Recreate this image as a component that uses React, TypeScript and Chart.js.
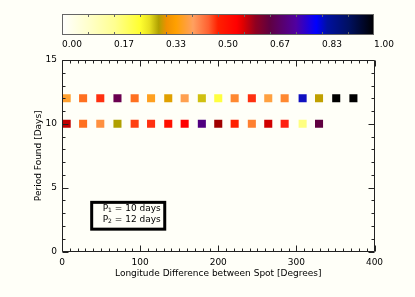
import { useEffect, useRef } from 'react';
import { Chart, registerables } from 'chart.js';

Chart.register(...registerables);

// ---- data ----
const longitudesP12 = [6, 27, 49, 71, 93, 114, 136, 157, 179, 200, 221, 243, 264, 285, 308, 329, 351, 373];
const periodsP12 = [12, 12, 12, 12, 12, 12, 12, 12, 12, 12, 12, 12, 12, 12, 12, 12, 12, 12];
const colorsP12 = [
  '#ffa030', '#ff7020', '#ff3010', '#6a0050', '#ff7020', '#ffa020', '#e0a000', '#ffa050', '#d0c010',
  '#ffff40', '#ff8830', '#ff3010', '#ffa040', '#ff8830', '#1010c0', '#c0a000', '#000000', '#000000',
];

const longitudesP10 = [6, 27, 49, 71, 93, 114, 136, 157, 179, 200, 221, 243, 264, 285, 308, 329];
const periodsP10 = [10, 10, 10, 10, 10, 10, 10, 10, 10, 10, 10, 10, 10, 10, 10, 10];
const colorsP10 = [
  '#c00000', '#ff7020', '#ff9040', '#b0a000', '#ff4010', '#ff3010', '#ff1000', '#ff0000', '#500080',
  '#a00000', '#ff2000', '#ff8030', '#d00000', '#ff2010', '#ffff80', '#600040',
];

const colorbarLabels = ['0.00', '0.17', '0.33', '0.50', '0.67', '0.83', '1.00'];
const colorbarStops: [number, string][] = [
  [0.0, '#ffffff'],
  [0.09, '#ffffc8'],
  [0.17, '#ffff90'],
  [0.25, '#ffff30'],
  [0.28, '#e8e020'],
  [0.31, '#b0a000'],
  [0.335, '#f09000'],
  [0.365, '#ffa000'],
  [0.42, '#ffa060'],
  [0.47, '#ff6030'],
  [0.5, '#ff2000'],
  [0.56, '#ff0000'],
  [0.58, '#e00000'],
  [0.62, '#900020'],
  [0.665, '#600040'],
  [0.75, '#5000a0'],
  [0.815, '#0000ff'],
  [0.85, '#0010a0'],
  [0.92, '#001060'],
  [1.0, '#000000'],
];

const legendLines = [
  { sub: '1', text: ' = 10 days' },
  { sub: '2', text: ' = 12 days' },
];

const FONT = "'DejaVu Sans', Verdana, sans-serif";
const BG = '#fffff8';

const idlPlugin = {
  id: 'idlPlugin',
  beforeDraw(chart: any) {
    const { ctx, width, height } = chart;
    ctx.save();
    ctx.fillStyle = BG;
    ctx.fillRect(0, 0, width, height);
    ctx.restore();
  },
  afterDraw(chart: any) {
    const { ctx, chartArea } = chart;
    const xs = chart.scales.x;
    const ys = chart.scales.y;
    const L = Math.round(chartArea.left) + 0.5;
    const R = Math.round(chartArea.right) - 0.5;
    const T = Math.round(chartArea.top) + 0.5;
    const B = Math.round(chartArea.bottom) - 0.5;
    ctx.save();
    ctx.strokeStyle = '#222';
    ctx.lineWidth = 1;
    ctx.beginPath();
    ctx.rect(L, T, R - L, B - T);
    ctx.stroke();
    ctx.beginPath();
    for (let v = 0; v <= 400; v += 10) {
      const px = Math.round(xs.getPixelForValue(v)) + 0.5;
      const len = v % 100 === 0 ? 6 : 3;
      ctx.moveTo(px, B);
      ctx.lineTo(px, B - len);
      ctx.moveTo(px, T);
      ctx.lineTo(px, T + len);
    }
    for (let v = 0; v <= 15; v += 1) {
      const py = Math.round(ys.getPixelForValue(v)) + 0.5;
      const len = v % 5 === 0 ? 6 : 3;
      ctx.moveTo(L, py);
      ctx.lineTo(L + len, py);
      ctx.moveTo(R, py);
      ctx.lineTo(R - len, py);
    }
    ctx.stroke();

    // legend box (in data coordinates)
    const bx0 = xs.getPixelForValue(38);
    const bx1 = xs.getPixelForValue(131.5);
    const by0 = ys.getPixelForValue(3.85);
    const by1 = ys.getPixelForValue(1.75);
    ctx.strokeStyle = '#000';
    ctx.lineWidth = 3;
    ctx.strokeRect(bx0, by0, bx1 - bx0, by1 - by0);
    ctx.fillStyle = '#000';
    ctx.textBaseline = 'middle';
    ctx.textAlign = 'left';
    legendLines.forEach((ln, i) => {
      const ty = by0 + 6 + i * 11;
      const tx = bx0 + 11;
      ctx.font = `9px ${FONT}`;
      ctx.fillText('P', tx, ty);
      const pw = ctx.measureText('P').width;
      ctx.font = `6px ${FONT}`;
      ctx.fillText(ln.sub, tx + pw, ty + 2);
      const sw = ctx.measureText(ln.sub).width;
      ctx.font = `9px ${FONT}`;
      ctx.fillText(ln.text, tx + pw + sw, ty);
    });

    // colorbar
    const cx0 = 62;
    const cx1 = 374;
    const cy0 = 14;
    const cy1 = 35;
    const grad = ctx.createLinearGradient(cx0, 0, cx1, 0);
    colorbarStops.forEach(([p, c]) => grad.addColorStop(p, c));
    ctx.fillStyle = grad;
    ctx.fillRect(cx0, cy0, cx1 - cx0, cy1 - cy0);
    ctx.strokeStyle = '#666';
    ctx.lineWidth = 1;
    ctx.strokeRect(cx0 + 0.5, cy0 + 0.5, cx1 - cx0 - 1, cy1 - cy0 - 1);
    ctx.beginPath();
    for (let i = 1; i < 12; i++) {
      const px = Math.round(cx0 + ((cx1 - cx0) * i) / 12) + 0.5;
      ctx.moveTo(px, cy0);
      ctx.lineTo(px, cy0 + 3);
      ctx.moveTo(px, cy1);
      ctx.lineTo(px, cy1 - 3);
    }
    ctx.stroke();
    ctx.fillStyle = '#000';
    ctx.font = `9px ${FONT}`;
    ctx.textAlign = 'left';
    ctx.textBaseline = 'middle';
    colorbarLabels.forEach((lab, i) => {
      const px = cx0 + ((cx1 - cx0) * i) / (colorbarLabels.length - 1);
      ctx.fillText(lab, px, 45);
    });
    ctx.restore();
  },
};

export default function App() {
  const ref = useRef<HTMLCanvasElement>(null);
  useEffect(() => {
    if (!ref.current) return;
    const font = { family: FONT, size: 9 };
    const chart = new Chart(ref.current, {
      type: 'scatter',
      data: {
        datasets: [
          {
            label: 'P12',
            data: longitudesP12.map((x, i) => ({ x, y: periodsP12[i] })),
            backgroundColor: colorsP12,
            pointStyle: 'rect',
            pointRadius: 5.7,
            borderWidth: 0,
          },
          {
            label: 'P10',
            data: longitudesP10.map((x, i) => ({ x, y: periodsP10[i] })),
            backgroundColor: colorsP10,
            pointStyle: 'rect',
            pointRadius: 5.7,
            borderWidth: 0,
          },
        ],
      },
      options: {
        animation: false,
        responsive: false,
        maintainAspectRatio: false,
        layout: { padding: { left: 0, right: 40.5, top: 60, bottom: 0 } },
        plugins: { legend: { display: false }, tooltip: { enabled: false } },
        scales: {
          x: {
            type: 'linear',
            min: 0,
            max: 400,
            grid: { display: false, drawTicks: false },
            border: { display: false },
            ticks: { stepSize: 100, padding: 6, color: '#000', font, maxRotation: 0 },
            title: {
              display: true,
              text: 'Longitude Difference between Spot [Degrees]',
              color: '#000',
              font,
              padding: { top: 0, bottom: 18 },
            },
            afterFit: (s: any) => {
              s.height = 297 - 251.5;
            },
          },
          y: {
            type: 'linear',
            min: 0,
            max: 15,
            grid: { display: false, drawTicks: false },
            border: { display: false },
            ticks: { stepSize: 5, padding: 5, color: '#000', font },
            title: {
              display: true,
              text: 'Period Found [Days]',
              color: '#000',
              font,
              padding: { top: 33, bottom: 0 },
            },
            afterFit: (s: any) => {
              s.width = 62;
            },
          },
        },
      },
      plugins: [idlPlugin],
    } as any);
    return () => chart.destroy();
  }, []);
  return (
    <div style={{ position: 'absolute', left: 0, top: 0, width: 415, height: 297 }}>
      <canvas ref={ref} width={415} height={297} style={{ width: 415, height: 297, display: 'block' }} />
    </div>
  );
}
